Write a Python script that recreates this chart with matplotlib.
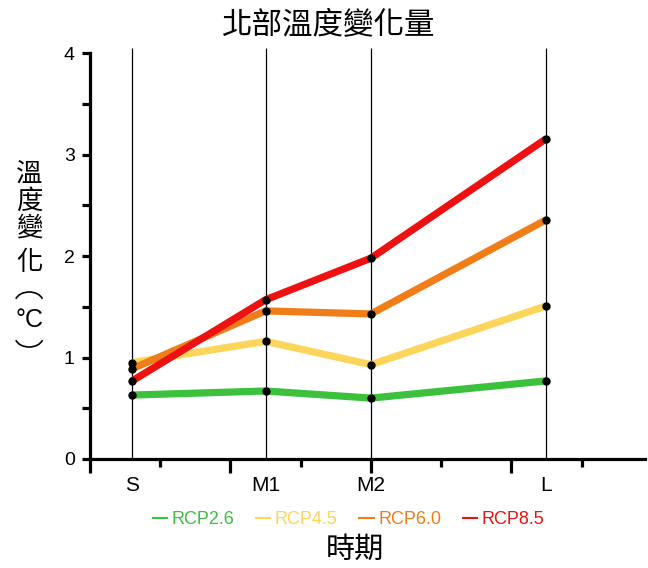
import matplotlib
matplotlib.use("Agg")
import matplotlib.pyplot as plt
from matplotlib.lines import Line2D
from matplotlib.patches import Arc
from matplotlib.ticker import MultipleLocator, NullFormatter

# data
periods = ["S", "M1", "M2", "L"]
period_x = [6, 25, 40, 65]
rcp26 = [0.63, 0.67, 0.60, 0.77]
rcp45 = [0.95, 1.16, 0.93, 1.51]
rcp60 = [0.89, 1.46, 1.43, 2.36]
rcp85 = [0.77, 1.57, 1.98, 3.16]
series_names = ["RCP2.6", "RCP4.5", "RCP6.0", "RCP8.5"]
series_colors = ["#3cc13c", "#fcd55a", "#f07d17", "#ee1111"]

cjk = ["Noto Sans CJK TC", "DejaVu Sans"]
latin = ["Liberation Sans", "DejaVu Sans"]

W, H = 648, 568
fig = plt.figure(figsize=(W / 100, H / 100), dpi=100)
ax = fig.add_axes([0.139, 0.192, 0.856, 0.723])

# vertical period lines
ax.vlines(period_x, 0, 4.05, color="black", lw=0.9, zorder=1)

for vals, col in zip([rcp26, rcp45, rcp60, rcp85], series_colors):
    ax.plot(period_x, vals, color=col, lw=5.2, solid_capstyle="butt", zorder=2)
    ax.plot(period_x, vals, "o", color="black", ms=5, zorder=3)

ax.set_xlim(0, 79)
ax.set_ylim(0, 4.05)

for s in ["top", "right"]:
    ax.spines[s].set_visible(False)
ax.spines["left"].set_bounds(0, 4)
ax.spines["left"].set_linewidth(2.3)
ax.spines["bottom"].set_linewidth(2.3)
ax.spines["bottom"].set_position(("data", 0))

ax.xaxis.set_major_locator(MultipleLocator(20))
ax.xaxis.set_minor_locator(MultipleLocator(10))
ax.xaxis.set_major_formatter(NullFormatter())
ax.tick_params(axis="x", which="major", direction="out", length=10, width=2.3)
ax.tick_params(axis="x", which="minor", direction="out", length=6, width=2.3)

ax.yaxis.set_major_locator(MultipleLocator(1))
ax.yaxis.set_minor_locator(MultipleLocator(0.5))
ax.tick_params(axis="y", which="both", direction="out", length=6, width=2.3,
               labelsize=14, pad=5)
for lbl in ax.get_yticklabels():
    lbl.set_fontfamily(latin)

for px, name in zip(period_x, periods):
    ax.text(px, -0.065, name, transform=ax.get_xaxis_transform(), ha="center",
            va="center", fontsize=15, family=latin)

fig.text(0.508, 0.954, "北部溫度變化量", ha="center", va="center", fontsize=22,
         family=cjk)

# vertical y label, one character per line; vertical-form brackets as arcs
ylab_x = 0.045
for ch, ypx in zip("溫度變化", [174, 201, 228, 263]):
    fig.text(ylab_x, 1 - ypx / H, ch, ha="center", va="center", fontsize=19,
             family=cjk)
fig.text(ylab_x, 1 - 320 / H, "°C", ha="center", va="center", fontsize=18,
         family=latin)
fig.add_artist(Arc((ylab_x, 1 - 302 / H), 28 / W, 20 / H, theta1=15, theta2=165,
                   transform=fig.transFigure, lw=1.2, color="black"))
fig.add_artist(Arc((ylab_x, 1 - 337 / H), 28 / W, 20 / H, theta1=195, theta2=345,
                   transform=fig.transFigure, lw=1.2, color="black"))

fig.text(0.548, 0.032, "時期", ha="center", va="center", fontsize=21, family=cjk)

handles = [Line2D([], [], color=c, lw=1.5) for c in series_colors]
leg = fig.legend(handles, series_names, loc="center", bbox_to_anchor=(0.538, 0.085),
                 ncol=4, frameon=False, handlelength=0.8, handletextpad=0.25,
                 columnspacing=1.2, prop={"family": latin, "size": 13},
                 labelcolor="linecolor")

fig.savefig("out.png", dpi=100)
